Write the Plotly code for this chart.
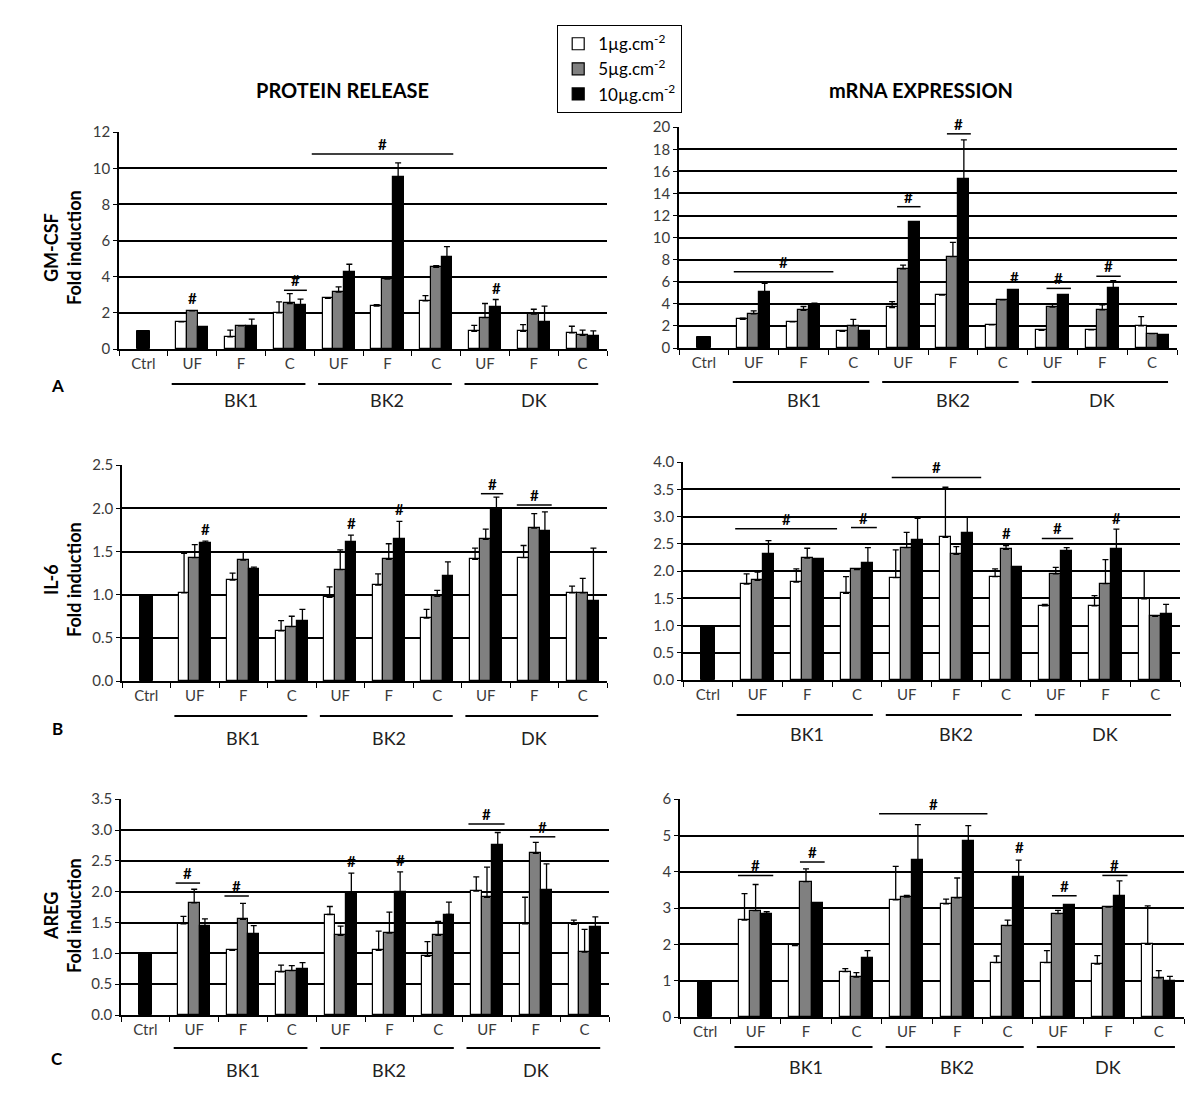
import plotly.graph_objects as go

W, H = 1200, 1099
PAGE_OFFSET = 8  # page body margin, compensated in pixel placement

categories = ["Ctrl", "UF", "F", "C", "UF", "F", "C", "UF", "F", "C"]
groups = ["BK1", "BK2", "DK"]
series_names = ["1µg.cm<sup>-2</sup>", "5µg.cm<sup>-2</sup>", "10µg.cm<sup>-2</sup>"]
ctrl_value = 1.0

# ---- GM-CSF protein release (BK1 UF,F,C | BK2 UF,F,C | DK UF,F,C)
gm_prot_1 = [1.50, 0.67, 2.00, 2.80, 2.37, 2.67, 0.98, 0.98, 0.89]
gm_prot_1_err = [0.0, 0.37, 0.61, 0.0, 0.09, 0.29, 0.33, 0.37, 0.37]
gm_prot_5 = [2.11, 1.28, 2.52, 3.15, 3.87, 4.52, 1.74, 1.93, 0.76]
gm_prot_5_err = [0.0, 0.0, 0.55, 0.29, 0.13, 0.09, 0.78, 0.27, 0.28]
gm_prot_10 = [1.22, 1.28, 2.41, 4.28, 9.52, 5.11, 2.30, 1.50, 0.70]
gm_prot_10_err = [0.0, 0.37, 0.35, 0.41, 0.78, 0.56, 0.44, 0.87, 0.30]

# ---- GM-CSF mRNA expression
gm_mrna_1 = [2.60, 2.38, 1.50, 3.67, 4.80, 2.10, 1.60, 1.65, 2.00]
gm_mrna_1_err = [0.10, 0.0, 0.0, 0.53, 0.0, 0.0, 0.0, 0.0, 0.85]
gm_mrna_5 = [3.10, 3.40, 2.00, 7.16, 8.27, 4.36, 3.70, 3.46, 1.30]
gm_mrna_5_err = [0.27, 0.36, 0.60, 0.34, 1.29, 0.0, 0.30, 0.44, 0.0]
gm_mrna_10 = [5.10, 3.76, 1.50, 11.40, 15.30, 5.26, 4.81, 5.40, 1.20]
gm_mrna_10_err = [0.76, 0.30, 0.0, 0.0, 3.56, 0.0, 0.0, 0.70, 0.0]

# ---- IL-6 protein release
il6_prot_1 = [1.02, 1.17, 0.58, 0.97, 1.11, 0.73, 1.41, 1.43, 1.02]
il6_prot_1_err = [0.46, 0.08, 0.12, 0.12, 0.13, 0.10, 0.13, 0.14, 0.08]
il6_prot_5 = [1.43, 1.40, 0.63, 1.29, 1.41, 0.98, 1.64, 1.77, 1.02]
il6_prot_5_err = [0.15, 0.09, 0.12, 0.23, 0.18, 0.07, 0.12, 0.17, 0.17]
il6_prot_10 = [1.60, 1.30, 0.70, 1.61, 1.64, 1.22, 1.99, 1.74, 0.93]
il6_prot_10_err = [0.02, 0.02, 0.13, 0.08, 0.21, 0.16, 0.14, 0.22, 0.61]

# ---- IL-6 mRNA expression
il6_mrna_1 = [1.76, 1.80, 1.59, 1.88, 2.62, 1.90, 1.36, 1.36, 1.49]
il6_mrna_1_err = [0.19, 0.24, 0.31, 0.51, 0.92, 0.14, 0.03, 0.19, 0.52]
il6_mrna_5 = [1.83, 2.24, 2.03, 2.43, 2.31, 2.40, 1.95, 1.77, 1.17]
il6_mrna_5_err = [0.15, 0.18, 0.0, 0.28, 0.14, 0.07, 0.12, 0.44, 0.0]
il6_mrna_10 = [2.32, 2.23, 2.14, 2.57, 2.70, 2.08, 2.37, 2.40, 1.21]
il6_mrna_10_err = [0.24, 0.0, 0.29, 0.40, 0.30, 0.0, 0.06, 0.37, 0.18]

# ---- AREG protein release
areg_prot_1 = [1.48, 1.05, 0.70, 1.63, 1.05, 0.95, 2.01, 1.48, 1.47]
areg_prot_1_err = [0.12, 0.0, 0.11, 0.13, 0.31, 0.24, 0.23, 0.43, 0.07]
areg_prot_5 = [1.82, 1.55, 0.72, 1.29, 1.33, 1.29, 1.91, 2.62, 1.02]
areg_prot_5_err = [0.22, 0.26, 0.08, 0.15, 0.34, 0.23, 0.49, 0.18, 0.37]
areg_prot_10 = [1.44, 1.31, 0.75, 1.97, 1.99, 1.63, 2.76, 2.03, 1.42]
areg_prot_10_err = [0.12, 0.14, 0.10, 0.33, 0.33, 0.20, 0.20, 0.42, 0.17]

# ---- AREG mRNA expression
areg_mrna_1 = [2.67, 1.97, 1.25, 3.23, 3.12, 1.50, 1.50, 1.46, 2.00]
areg_mrna_1_err = [0.73, 0.0, 0.08, 0.92, 0.13, 0.18, 0.33, 0.23, 1.06]
areg_mrna_5 = [2.93, 3.73, 1.10, 3.30, 3.28, 2.52, 2.85, 3.03, 1.08]
areg_mrna_5_err = [0.72, 0.35, 0.12, 0.05, 0.55, 0.15, 0.09, 0.0, 0.20]
areg_mrna_10 = [2.83, 3.13, 1.63, 4.33, 4.84, 3.86, 3.09, 3.33, 1.00]
areg_mrna_10_err = [0.07, 0.0, 0.20, 0.97, 0.43, 0.46, 0.0, 0.42, 0.12]

# significance marks: (x_from, x_to, y, with_line) in category units
gm_prot_sig = [(1.0, 1.0, 2.25, False), (2.88, 3.35, 3.25, True), (3.45, 6.35, 10.8, True), (7.23, 7.23, 2.85, False)]
gm_mrna_sig = [(0.6, 2.6, 6.9, True), (3.88, 4.35, 12.8, True), (4.88, 5.36, 19.4, True), (6.23, 6.23, 5.5, False),
               (6.88, 7.37, 5.4, True), (7.88, 8.37, 6.5, True)]
il6_prot_sig = [(1.23, 1.23, 1.65, False), (4.23, 4.23, 1.72, False), (5.23, 5.23, 1.88, False),
                (6.9, 7.36, 2.17, True), (7.64, 8.36, 2.04, True)]
il6_mrna_sig = [(0.55, 2.6, 2.78, True), (2.88, 3.4, 2.8, True), (3.7, 5.5, 3.72, True), (6.0, 6.0, 2.52, False),
                (6.72, 7.35, 2.6, True), (8.23, 8.23, 2.8, False)]
areg_prot_sig = [(0.62, 1.12, 2.14, True), (1.62, 2.12, 1.93, True), (4.23, 4.23, 2.33, False),
                 (5.23, 5.23, 2.35, False), (6.62, 7.36, 3.1, True), (7.88, 8.4, 2.89, True)]
areg_mrna_sig = [(0.65, 1.35, 3.9, True), (1.88, 2.37, 4.27, True), (3.45, 5.6, 5.6, True), (6.23, 6.23, 4.4, False),
                 (6.88, 7.37, 3.34, True), (7.88, 8.38, 3.9, True)]

panels = [
    dict(vals=[gm_prot_1, gm_prot_5, gm_prot_10], errs=[gm_prot_1_err, gm_prot_5_err, gm_prot_10_err],
         sig=gm_prot_sig, ymax=12, dtick=2, fmt="d",
         box=(119, 607, 132, 349), lab_y=370, line_y=384, grp_y=400, legend=True),
    dict(vals=[gm_mrna_1, gm_mrna_5, gm_mrna_10], errs=[gm_mrna_1_err, gm_mrna_5_err, gm_mrna_10_err],
         sig=gm_mrna_sig, ymax=20, dtick=2, fmt="d",
         box=(679, 1177, 127, 348), lab_y=368, line_y=382, grp_y=400, legend=False),
    dict(vals=[il6_prot_1, il6_prot_5, il6_prot_10], errs=[il6_prot_1_err, il6_prot_5_err, il6_prot_10_err],
         sig=il6_prot_sig, ymax=2.5, dtick=0.5, fmt=".1f",
         box=(122, 607, 465, 681), lab_y=704, line_y=716, grp_y=738, legend=False),
    dict(vals=[il6_mrna_1, il6_mrna_5, il6_mrna_10], errs=[il6_mrna_1_err, il6_mrna_5_err, il6_mrna_10_err],
         sig=il6_mrna_sig, ymax=4.0, dtick=0.5, fmt=".1f",
         box=(683, 1180, 462, 680), lab_y=700, line_y=715, grp_y=734, legend=False),
    dict(vals=[areg_prot_1, areg_prot_5, areg_prot_10], errs=[areg_prot_1_err, areg_prot_5_err, areg_prot_10_err],
         sig=areg_prot_sig, ymax=3.5, dtick=0.5, fmt=".1f",
         box=(121, 609, 799, 1015), lab_y=1035, line_y=1048, grp_y=1070, legend=False),
    dict(vals=[areg_mrna_1, areg_mrna_5, areg_mrna_10], errs=[areg_mrna_1_err, areg_mrna_5_err, areg_mrna_10_err],
         sig=areg_mrna_sig, ymax=6, dtick=1, fmt="d",
         box=(680, 1184, 799, 1017), lab_y=1035, line_y=1047, grp_y=1067, legend=False),
]

FONT = "Lato, 'Open Sans', sans-serif"
fills = ["#ffffff", "#808080", "#000000"]
BW = 0.22
offsets = [-1.5 * BW, -0.5 * BW, 0.5 * BW]


def px(x):
    return (x - PAGE_OFFSET) / W


def py(y):
    return 1 - (y - PAGE_OFFSET) / H


fig = go.Figure()
shapes = []
annotations = []
layout_axes = {}

for i, p in enumerate(panels):
    n = i + 1
    xa = "x" if n == 1 else f"x{n}"
    ya = "y" if n == 1 else f"y{n}"
    xkey = "xaxis" if n == 1 else f"xaxis{n}"
    ykey = "yaxis" if n == 1 else f"yaxis{n}"
    x0, x1, ytop, ybot = p["box"]
    xpos = list(range(1, 10))

    fig.add_trace(go.Bar(x=[0], y=[ctrl_value], width=[0.27], offset=-0.135,
                         marker=dict(color="black", line=dict(color="black", width=1)),
                         xaxis=xa, yaxis=ya, showlegend=False, name="Ctrl"))
    for s in range(3):
        fig.add_trace(go.Bar(
            x=xpos, y=p["vals"][s], width=BW, offset=offsets[s],
            marker=dict(color=fills[s], line=dict(color="black", width=1.2)),
            error_y=dict(type="data", symmetric=False, array=p["errs"][s],
                         arrayminus=[0] * 9, color="black", thickness=1.3, width=3),
            name=series_names[s], showlegend=p["legend"], legendgroup=series_names[s],
            xaxis=xa, yaxis=ya))

    layout_axes[xkey] = dict(
        domain=[px(x0), px(x1)], range=[-0.5, 9.5], anchor=ya,
        tickmode="array", tickvals=list(range(10)), ticktext=categories,
        ticks="", showline=True, linecolor="black", linewidth=1.5,
        showgrid=False, zeroline=False, automargin=False,
        tickfont=dict(family=FONT, size=15, color="#3a3a3a"),
        minor=dict(tickmode="array", tickvals=[k + 0.5 for k in range(-1, 10)],
                   ticks="outside", ticklen=5, tickcolor="black", tickwidth=1.2),
        fixedrange=True)
    layout_axes[ykey] = dict(
        domain=[py(ybot), py(ytop)], range=[0, p["ymax"] * 1.001], anchor=xa,
        tick0=0, dtick=p["dtick"], tickformat=p["fmt"],
        ticks="outside", ticklen=4, tickcolor="black", automargin=False,
        showline=True, linecolor="black", linewidth=1.5,
        showgrid=True, gridcolor="black", gridwidth=1.5, zeroline=False,
        tickfont=dict(family=FONT, size=15, color="#3a3a3a"), fixedrange=True)

    # group underline + labels
    for g in range(3):
        c0 = 1 + 3 * g
        shapes.append(dict(type="line", xref=xa, yref="paper",
                           x0=c0 - 0.42, x1=c0 + 2 + 0.32, y0=py(p["line_y"]), y1=py(p["line_y"]),
                           line=dict(color="black", width=2)))
        annotations.append(dict(text=groups[g], xref=xa, yref="paper", x=c0 + 1, y=py(p["grp_y"]),
                                showarrow=False, font=dict(family=FONT, size=18, color="#222"),
                                xanchor="center", yanchor="middle"))

    # significance
    for (sx0, sx1, sy, with_line) in p["sig"]:
        if with_line:
            shapes.append(dict(type="line", xref=xa, yref=ya, x0=sx0, x1=sx1, y0=sy, y1=sy,
                               line=dict(color="black", width=1.5)))
        annotations.append(dict(text="<b>#</b>", xref=xa, yref=ya, x=(sx0 + sx1) / 2, y=sy,
                                showarrow=False, yanchor="bottom", xanchor="center", yshift=-1,
                                font=dict(family=FONT, size=15, color="black")))

# y-axis titles and panel letters
ytitles = [("GM-CSF", 248), ("IL-6", 580), ("AREG", 916)]
letters = [("A", 386), ("B", 728), ("C", 1058)]
for (t, yc) in ytitles:
    annotations.append(dict(text=f"<b>{t}</b>", xref="paper", yref="paper", x=px(51), y=py(yc),
                            textangle=-90, showarrow=False, xanchor="center", yanchor="middle",
                            font=dict(family=FONT, size=18, color="black")))
    annotations.append(dict(text="<b>Fold induction</b>", xref="paper", yref="paper", x=px(74), y=py(yc),
                            textangle=-90, showarrow=False, xanchor="center", yanchor="middle",
                            font=dict(family=FONT, size=18, color="black")))
for (t, yc) in letters:
    annotations.append(dict(text=f"<b>{t}</b>", xref="paper", yref="paper", x=px(57), y=py(yc),
                            showarrow=False, xanchor="center", yanchor="middle",
                            font=dict(family=FONT, size=17, color="black")))

annotations.append(dict(text="<b>PROTEIN RELEASE</b>", xref="paper", yref="paper", x=px(342), y=py(90),
                        showarrow=False, xanchor="center", yanchor="middle",
                        font=dict(family=FONT, size=20, color="black")))
annotations.append(dict(text="<b>mRNA EXPRESSION</b>", xref="paper", yref="paper", x=px(921), y=py(90),
                        showarrow=False, xanchor="center", yanchor="middle",
                        font=dict(family=FONT, size=20, color="black")))

fig.update_layout(
    width=W, height=H, autosize=False,
    margin=dict(l=0, r=0, t=0, b=0, pad=0, autoexpand=False),
    paper_bgcolor="white", plot_bgcolor="white",
    barmode="overlay", bargap=0,
    shapes=shapes, annotations=annotations,
    showlegend=True,
    legend=dict(x=px(557), y=py(25), xanchor="left", yanchor="top",
                bordercolor="black", borderwidth=1.2, bgcolor="white",
                font=dict(family=FONT, size=17, color="black"),
                itemwidth=30, tracegroupgap=0, traceorder="normal"),
    **layout_axes,
)

fig.write_html("out.html", config={"displayModeBar": False})
